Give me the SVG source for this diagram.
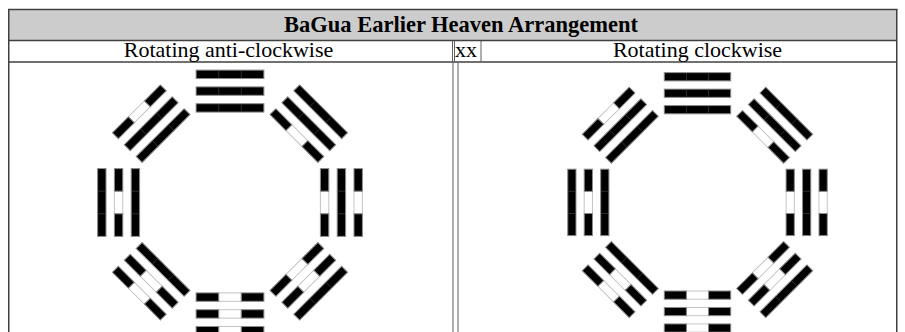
<svg xmlns="http://www.w3.org/2000/svg" xmlns:xlink="http://www.w3.org/1999/xlink" width="905" height="332" viewBox="0 0 905 332">
  <style>
    .blk { fill: #000; stroke: #8c8c8c; stroke-width: 1; }
    .wht { fill: #fff; stroke: #c4c4c4; stroke-width: 1; }
    .sep { stroke: #3a3a3a; stroke-width: 0.8; }
    .bd { stroke: #404040; stroke-width: 1.5; fill: none; }
    .bd2 { stroke: #606060; stroke-width: 1; fill: none; }
    .title { font-family: "Liberation Serif", "Times New Roman", serif; font-size: 22.5px; font-weight: bold; fill: #000; }
    .cap { font-family: "Liberation Serif", "Times New Roman", serif; font-size: 22px; fill: #000; }
  </style>
  <defs>
    <g id="yang">
      <rect class="blk" x="-33.9" y="-4.2" width="67.8" height="8.4"/>
      <line class="sep" x1="-11.3" y1="-3.7" x2="-11.3" y2="3.7"/>
      <line class="sep" x1="11.3" y1="-3.7" x2="11.3" y2="3.7"/>
    </g>
    <g id="yin">
      <rect class="wht" x="-11.3" y="-4.2" width="22.6" height="8.4"/>
      <rect class="blk" x="-33.9" y="-4.2" width="22.6" height="8.4"/>
      <rect class="blk" x="11.3" y="-4.2" width="22.6" height="8.4"/>
    </g>
    <!-- trigrams: outer line, middle line, inner line -->
    <g id="qian"><use xlink:href="#yang" y="-128.2"/><use xlink:href="#yang" y="-111.4"/><use xlink:href="#yang" y="-94.6"/></g>
    <g id="xun"><use xlink:href="#yang" y="-128.2"/><use xlink:href="#yang" y="-111.4"/><use xlink:href="#yin" y="-94.6"/></g>
    <g id="kan"><use xlink:href="#yin" y="-128.2"/><use xlink:href="#yang" y="-111.4"/><use xlink:href="#yin" y="-94.6"/></g>
    <g id="gen"><use xlink:href="#yang" y="-128.2"/><use xlink:href="#yin" y="-111.4"/><use xlink:href="#yin" y="-94.6"/></g>
    <g id="kun"><use xlink:href="#yin" y="-128.2"/><use xlink:href="#yin" y="-111.4"/><use xlink:href="#yin" y="-94.6"/></g>
    <g id="zhen"><use xlink:href="#yin" y="-128.2"/><use xlink:href="#yin" y="-111.4"/><use xlink:href="#yang" y="-94.6"/></g>
    <g id="li"><use xlink:href="#yang" y="-128.2"/><use xlink:href="#yin" y="-111.4"/><use xlink:href="#yang" y="-94.6"/></g>
    <g id="dui"><use xlink:href="#yin" y="-128.2"/><use xlink:href="#yang" y="-111.4"/><use xlink:href="#yang" y="-94.6"/></g>
  </defs>

  <rect x="0" y="0" width="905" height="332" fill="#fff"/>

  <g id="table">
    <rect x="8" y="9" width="889" height="31" fill="#cccccc"/>
    <line class="bd" x1="8" y1="9.5" x2="897.5" y2="9.5"/>
    <line class="bd" x1="8.75" y1="9" x2="8.75" y2="332"/>
    <line class="bd" x1="896.75" y1="9" x2="896.75" y2="332"/>
    <line class="bd" x1="8" y1="40.5" x2="897" y2="40.5"/>
    <line class="bd" x1="8" y1="62" x2="897" y2="62"/>
    <line class="bd2" x1="452.5" y1="41" x2="452.5" y2="62"/>
    <line class="bd2" x1="454.5" y1="41" x2="454.5" y2="62"/>
    <line class="bd2" x1="481" y1="41" x2="481" y2="62"/>
    <line class="bd2" x1="453" y1="62" x2="453" y2="332"/>
    <line class="bd2" x1="458" y1="62" x2="458" y2="332"/>
  </g>

  <g id="labels">
    <text class="title" x="461" y="32" text-anchor="middle">BaGua Earlier Heaven Arrangement</text>
    <text class="cap" x="228.5" y="57" text-anchor="middle">Rotating anti-clockwise</text>
    <text class="cap" x="466" y="57" text-anchor="middle">xx</text>
    <text class="cap" x="697.5" y="57" text-anchor="middle">Rotating clockwise</text>
  </g>

  <g id="bagua-anticlockwise">
    <g id="l-qian"><use xlink:href="#qian" transform="translate(230,202.5) rotate(0)"/></g>
    <g id="l-xun"><use xlink:href="#xun" transform="translate(230,202.5) rotate(45)"/></g>
    <g id="l-kan"><use xlink:href="#kan" transform="translate(230,202.5) rotate(90)"/></g>
    <g id="l-gen"><use xlink:href="#gen" transform="translate(230,202.5) rotate(135)"/></g>
    <g id="l-kun"><use xlink:href="#kun" transform="translate(230,202.5) rotate(180)"/></g>
    <g id="l-zhen"><use xlink:href="#zhen" transform="translate(230,202.5) rotate(225)"/></g>
    <g id="l-li"><use xlink:href="#li" transform="translate(230,202.5) rotate(270)"/></g>
    <g id="l-dui"><use xlink:href="#dui" transform="translate(230,202.5) rotate(315)"/></g>
  </g>

  <g id="bagua-clockwise">
    <g id="r-qian"><use xlink:href="#qian" transform="translate(697.5,202.4) scale(0.98) rotate(0)"/></g>
    <g id="r-xun"><use xlink:href="#xun" transform="translate(697.5,202.4) scale(0.98) rotate(45)"/></g>
    <g id="r-kan"><use xlink:href="#kan" transform="translate(697.5,202.4) scale(0.98) rotate(90)"/></g>
    <g id="r-gen"><use xlink:href="#gen" transform="translate(697.5,202.4) scale(0.98) rotate(135)"/></g>
    <g id="r-kun"><use xlink:href="#kun" transform="translate(697.5,202.4) scale(0.98) rotate(180)"/></g>
    <g id="r-zhen"><use xlink:href="#zhen" transform="translate(697.5,202.4) scale(0.98) rotate(225)"/></g>
    <g id="r-li"><use xlink:href="#li" transform="translate(697.5,202.4) scale(0.98) rotate(270)"/></g>
    <g id="r-dui"><use xlink:href="#dui" transform="translate(697.5,202.4) scale(0.98) rotate(315)"/></g>
  </g>
</svg>
